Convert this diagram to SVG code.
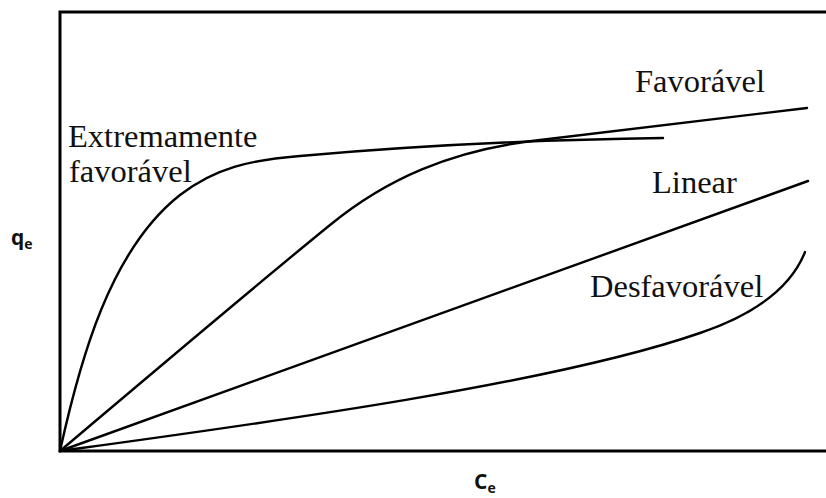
<svg xmlns="http://www.w3.org/2000/svg" width="826" height="498" viewBox="0 0 826 498">
<style>
.ax{fill:none;stroke:#000;stroke-width:3}
.cv{fill:none;stroke:#000;stroke-width:2.4;stroke-linecap:round;stroke-linejoin:round}
.lbl{font-family:"Liberation Serif","Times New Roman",serif;font-size:32.5px;fill:#111}
.axl{font-family:"Open Sans","Liberation Sans",Arial,sans-serif;font-weight:bold;fill:#111}
</style>
<rect width="826" height="498" fill="#fff"/>
<g id="axes">
<path class="ax" d="M826,12 L60,12 L60,451 L826,451"/>
<text class="axl" x="11" y="245" font-size="21">q<tspan font-size="14" dy="4">e</tspan></text>
<text class="axl" x="474" y="489" font-size="21">C<tspan font-size="14" dy="4">e</tspan></text>
</g>
<g id="curves">
<path id="extremamente" class="cv" d="M60,451 C80,360 110,250 180,195 C215,168 250,160 300,156 C400,147 520,140 663,138"/>
<path id="favoravel" class="cv" d="M60,451 C150,375 250,290 330,225 C385,180 450,150 540,140 C640,128 730,118 807,108"/>
<path id="linear" class="cv" d="M60,451 L808,181"/>
<path id="desfavoravel" class="cv" d="M60,451 C250,425 550,385 700,333 C750,316 790,290 805,252"/>
</g>
<g id="labels">
<text class="lbl" x="68" y="147">Extremamente</text>
<text class="lbl" x="69" y="182">favorável</text>
<text class="lbl" x="635" y="92">Favorável</text>
<text class="lbl" x="652" y="193">Linear</text>
<text class="lbl" x="590" y="297">Desfavorável</text>
</g>
</svg>
